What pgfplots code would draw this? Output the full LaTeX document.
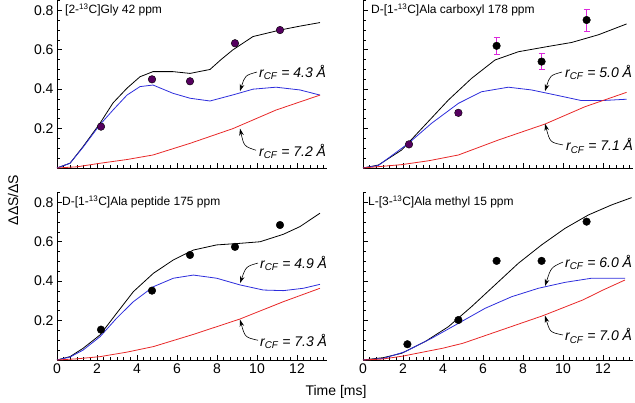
\documentclass[border=0pt]{standalone}
\usepackage{pgfplots}
\pgfplotsset{compat=1.18}
\usetikzlibrary{arrows.meta}
\usepackage{fontspec}
\setmainfont{Liberation Sans}

\definecolor{cblue}{RGB}{45,45,220}
\definecolor{cred}{RGB}{232,40,40}
\definecolor{cpurp}{RGB}{85,0,95}
\definecolor{cmag}{RGB}{220,40,220}

\pgfplotsset{
  panel/.style={
    scale only axis, width=270pt, height=167.5pt,
    xmin=0, xmax=13.5, ymin=0, ymax=0.85,
    axis x line=bottom, axis y line=left,
    axis line style={-, line width=0.6pt},
    xtick={0,2,...,12}, ytick={0.2,0.4,0.6,0.8},
    minor xtick={0,0.33333,...,13.5},
    minor ytick={0,0.05,...,0.86},
    tick align=inside,
    major tick length=5pt, minor tick length=3pt,
    tick style={line width=0.6pt, black},
    tick label style={font=\fontsize{14}{16}\selectfont},
    /pgf/number format/assume math mode=true,
    yticklabel style={/pgf/number format/fixed, /pgf/number format/precision=1},
    clip=false,
  },
  blk/.style={black, line width=0.8pt},
  blu/.style={cblue, line width=0.8pt},
  rd/.style={cred, line width=0.8pt},
  pts/.style={only marks, mark=*, mark size=3.8pt, mark options={fill=black, draw=black}},
  errb/.style={draw=none, mark=none, error bars/.cd, y dir=both, y explicit,
    error bar style={cmag, line width=0.8pt},
    error mark options={rotate=90, mark size=3pt, cmag, line width=0.8pt}},
}
\tikzset{
  rlab/.style={anchor=west, font=\fontsize{14}{16}\selectfont\itshape, inner sep=1pt},
  arr/.style={-{Stealth[length=7pt,width=4.5pt]}, line width=0.6pt},
  ttl/.style={anchor=north west, font=\fontsize{12}{14}\selectfont, inner sep=0pt},
}

\begin{document}
\begin{tikzpicture}
\path[use as bounding box] (0pt,0pt) rectangle (635pt,403pt);

% top left: Gly
\begin{axis}[panel, at={(57pt,235pt)}, xticklabels={}]
\addplot[blk] coordinates {(0,0) (0.65,0.024) (1.3,0.108) (2.15,0.227) (2.8,0.33) (3.5,0.405) (4.15,0.463) (4.8,0.489) (5.8,0.489) (6.65,0.48) (7.65,0.5) (8.2,0.55) (8.8,0.6) (9.8,0.667) (11.15,0.70) (12.15,0.72) (13.15,0.738)};
\addplot[blu] coordinates {(0,0) (0.65,0.024) (1.3,0.105) (2.15,0.22) (2.8,0.294) (3.5,0.37) (4.15,0.413) (4.8,0.421) (5.8,0.379) (6.65,0.354) (7.65,0.34) (8.8,0.371) (9.8,0.4) (10.95,0.41) (12.15,0.396) (13.15,0.37)};
\addplot[rd] coordinates {(0,0) (1,0.006) (2.15,0.024) (3.5,0.043) (4.8,0.066) (6.65,0.125) (8.8,0.2) (10.95,0.294) (13.15,0.37)};
\addplot[pts, mark options={fill=cpurp, draw=black}] coordinates {(2.2,0.21) (4.75,0.45) (6.65,0.44) (8.9,0.633) (11.15,0.70)};
\node[ttl] at (axis cs:0.4,0.835) {[2-\textsuperscript{13}C]Gly 42 ppm};
\node[rlab] at (axis cs:10.05,0.487) {r\textsubscript{CF} = 4.3 Å};
\draw[arr] (axis cs:10.0,0.487) .. controls (axis cs:9.4,0.47) .. (axis cs:9.15,0.39);
\node[rlab] at (axis cs:10.05,0.085) {r\textsubscript{CF} = 7.2 Å};
\draw[arr] (axis cs:9.95,0.09) .. controls (axis cs:9.35,0.11) .. (axis cs:9.15,0.2);
\end{axis}

% top right: Ala carboxyl
\begin{axis}[panel, at={(363pt,235pt)}, xticklabels={}, yticklabels={}]
\addplot[blk] coordinates {(0,0) (0.77,0.015) (1.93,0.091) (3.1,0.218) (4.27,0.345) (5.43,0.455) (6.6,0.548) (7.77,0.59) (9.27,0.617) (10.43,0.637) (11.77,0.676) (13.18,0.731)};
\addplot[blu] coordinates {(0,0) (0.77,0.013) (2.27,0.125) (3.43,0.227) (4.77,0.328) (5.93,0.387) (7.27,0.41) (8.43,0.396) (9.6,0.371) (10.93,0.342) (11.93,0.342) (13.18,0.349)};
\addplot[rd] coordinates {(0,0) (1.93,0.017) (3.3,0.037) (4.77,0.066) (6.77,0.142) (9.1,0.223) (11.1,0.311) (13.18,0.384)};
\addplot[errb] coordinates {(2.3,0.12) +- (0,0.01) (4.77,0.28) +- (0,0.012) (6.68,0.62) +- (0,0.045) (8.93,0.54) +- (0,0.04) (11.18,0.751) +- (0,0.056)};
\addplot[pts] coordinates {(6.68,0.62) (8.93,0.54) (11.18,0.751)};
\addplot[pts, mark options={fill=cpurp, draw=black}] coordinates {(2.3,0.12) (4.77,0.28)};
\node[ttl] at (axis cs:0.4,0.835) {D-[1-\textsuperscript{13}C]Ala carboxyl 178 ppm};
\node[rlab] at (axis cs:10.05,0.487) {r\textsubscript{CF} = 5.0 Å};
\draw[arr] (axis cs:9.95,0.487) .. controls (axis cs:9.35,0.47) .. (axis cs:9.1,0.39);
\node[rlab] at (axis cs:10.1,0.112) {r\textsubscript{CF} = 7.1 Å};
\draw[arr] (axis cs:10.0,0.117) .. controls (axis cs:9.35,0.13) .. (axis cs:9.1,0.225);
\end{axis}

% bottom left: Ala peptide
\begin{axis}[panel, at={(57pt,43pt)}]
\addplot[blk] coordinates {(0,0) (0.65,0.017) (1.3,0.059) (2.15,0.127) (2.98,0.237) (3.82,0.347) (4.82,0.44) (5.82,0.508) (6.82,0.558) (7.98,0.584) (9.15,0.592) (10.15,0.6) (11.32,0.638) (12.15,0.677) (13.15,0.745)};
\addplot[blu] coordinates {(0,0) (0.65,0.015) (1.3,0.05) (2.15,0.118) (2.98,0.212) (3.82,0.296) (4.82,0.372) (5.82,0.415) (6.82,0.431) (7.98,0.415) (9.15,0.381) (10.32,0.355) (11.32,0.352) (12.32,0.364) (13.15,0.384)};
\addplot[rd] coordinates {(0,0) (1,0.006) (2.15,0.017) (3.5,0.04) (4.82,0.068) (6.82,0.13) (9.15,0.208) (11.32,0.296) (13.15,0.364)};
\addplot[pts] coordinates {(2.2,0.154) (4.75,0.352) (6.65,0.533) (8.9,0.574) (11.15,0.685)};
\node[ttl] at (axis cs:0.25,0.835) {D-[1-\textsuperscript{13}C]Ala peptide 175 ppm};
\node[rlab] at (axis cs:10.1,0.492) {r\textsubscript{CF} = 4.9 Å};
\draw[arr] (axis cs:10.05,0.492) .. controls (axis cs:9.45,0.475) .. (axis cs:9.15,0.39);
\node[rlab] at (axis cs:10.1,0.095) {r\textsubscript{CF} = 7.3 Å};
\draw[arr] (axis cs:10.05,0.1) .. controls (axis cs:9.4,0.115) .. (axis cs:9.15,0.205);
\end{axis}

% bottom right: Ala methyl
\begin{axis}[panel, at={(363pt,43pt)}, yticklabels={}]
\addplot[blk] coordinates {(0,0) (1.02,0.012) (1.93,0.034) (3.1,0.093) (4.27,0.169) (5.43,0.271) (6.6,0.381) (7.77,0.491) (8.93,0.584) (10.1,0.668) (11.27,0.736) (12.43,0.787) (13.43,0.824)};
\addplot[blu] coordinates {(0,0) (1.02,0.008) (2.1,0.042) (3.43,0.11) (4.77,0.186) (6.1,0.262) (7.43,0.321) (8.77,0.364) (10.1,0.394) (11.43,0.415) (13.1,0.415)};
\addplot[rd] coordinates {(0,0) (1,0.005) (2,0.02) (3,0.04) (4,0.06) (5,0.085) (6,0.12) (7,0.155) (8,0.19) (9,0.225) (10,0.265) (11,0.305) (12,0.355) (13.1,0.406)};
\addplot[pts] coordinates {(2.22,0.08) (4.77,0.203) (6.68,0.503) (8.93,0.503) (11.18,0.702)};
\node[ttl] at (axis cs:0.25,0.835) {L-[3-\textsuperscript{13}C]Ala methyl 15 ppm};
\node[rlab] at (axis cs:10.05,0.497) {r\textsubscript{CF} = 6.0 Å};
\draw[arr] (axis cs:10.0,0.497) .. controls (axis cs:9.4,0.47) .. (axis cs:9.1,0.375);
\node[rlab] at (axis cs:10.05,0.122) {r\textsubscript{CF} = 7.0 Å};
\draw[arr] (axis cs:10.0,0.127) .. controls (axis cs:9.35,0.14) .. (axis cs:9.1,0.225);
\end{axis}

\node[rotate=90, font=\fontsize{14}{16}\selectfont] at (13pt,203pt) {ΔΔS/ΔS};
\node[font=\fontsize{14}{16}\selectfont] at (336pt,11pt) {Time [ms]};
\end{tikzpicture}
\end{document}
